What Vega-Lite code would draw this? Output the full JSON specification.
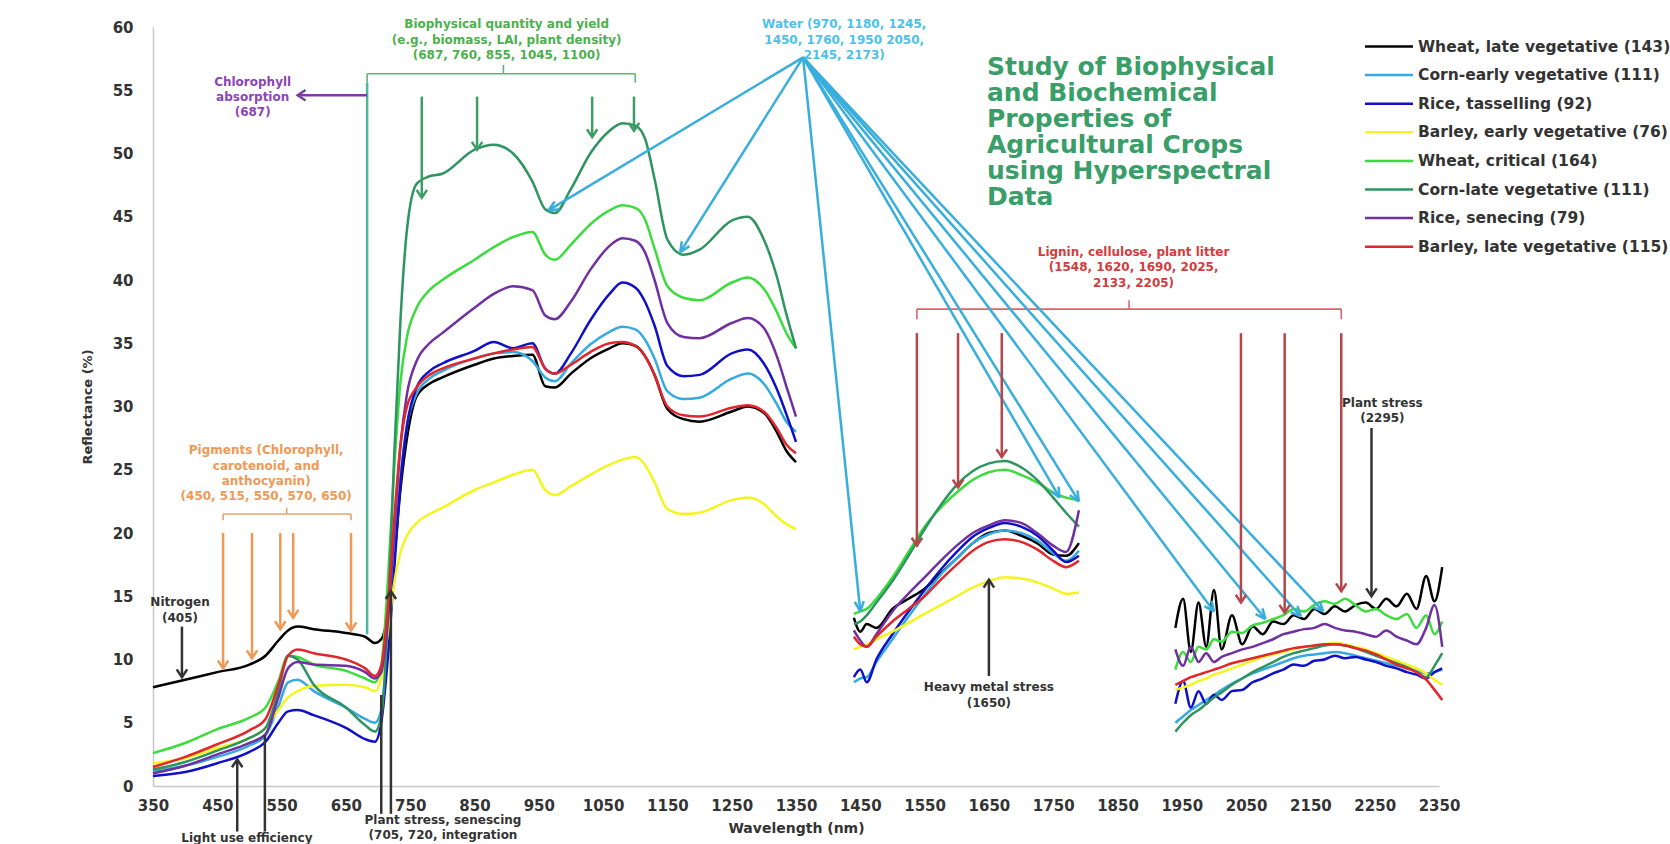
{
"$schema": "https://vega.github.io/schema/vega-lite/v6.json",
"width": 1286, "height": 759,
"autosize": {"type": "none"},
"padding": {"left": 153, "top": 27, "right": 231, "bottom": 58},
"background": "white",
"config": {"view": {"stroke": null}, "font": "DejaVu Sans"},
"datasets": {
"series": [{"c":"A","name":"Wheat, late vegetative (143)"},{"c":"B","name":"Corn-early vegetative (111)"},{"c":"C","name":"Rice, tasselling (92)"},{"c":"D","name":"Barley, early vegetative (76)"},{"c":"E","name":"Wheat, critical (164)"},{"c":"F","name":"Corn-late vegetative (111)"},{"c":"G","name":"Rice, senecing (79)"},{"c":"H","name":"Barley, late vegetative (115)"}],
"spectra": [
{"c":"A","seg":1,"x":350,"y":7.8},{"c":"A","seg":1,"x":400,"y":8.4},{"c":"A","seg":1,"x":450,"y":9.0},{"c":"A","seg":1,"x":500,"y":9.6},{"c":"A","seg":1,"x":525,"y":10.3},{"c":"A","seg":1,"x":545,"y":11.5},{"c":"A","seg":1,"x":560,"y":12.3},{"c":"A","seg":1,"x":575,"y":12.6},{"c":"A","seg":1,"x":600,"y":12.4},{"c":"A","seg":1,"x":650,"y":12.1},{"c":"A","seg":1,"x":680,"y":11.8},{"c":"A","seg":1,"x":695,"y":11.3},{"c":"A","seg":1,"x":705,"y":11.6},{"c":"A","seg":1,"x":715,"y":13.5},{"c":"A","seg":1,"x":725,"y":18},{"c":"A","seg":1,"x":735,"y":23.5},{"c":"A","seg":1,"x":745,"y":27.5},{"c":"A","seg":1,"x":760,"y":30.8},{"c":"A","seg":1,"x":780,"y":31.8},{"c":"A","seg":1,"x":800,"y":32.3},{"c":"A","seg":1,"x":850,"y":33.3},{"c":"A","seg":1,"x":880,"y":33.8},{"c":"A","seg":1,"x":910,"y":34.0},{"c":"A","seg":1,"x":940,"y":34.1},{"c":"A","seg":1,"x":960,"y":31.6},{"c":"A","seg":1,"x":975,"y":31.5},{"c":"A","seg":1,"x":1000,"y":32.6},{"c":"A","seg":1,"x":1030,"y":33.8},{"c":"A","seg":1,"x":1060,"y":34.6},{"c":"A","seg":1,"x":1080,"y":35.0},{"c":"A","seg":1,"x":1100,"y":34.8},{"c":"A","seg":1,"x":1115,"y":34.0},{"c":"A","seg":1,"x":1130,"y":32.5},{"c":"A","seg":1,"x":1150,"y":29.8},{"c":"A","seg":1,"x":1175,"y":29.0},{"c":"A","seg":1,"x":1200,"y":28.8},{"c":"A","seg":1,"x":1250,"y":29.6},{"c":"A","seg":1,"x":1275,"y":30.0},{"c":"A","seg":1,"x":1300,"y":29.5},{"c":"A","seg":1,"x":1320,"y":28.0},{"c":"A","seg":1,"x":1335,"y":26.5},{"c":"A","seg":1,"x":1350,"y":25.6},
{"c":"B","seg":1,"x":350,"y":1.2},{"c":"B","seg":1,"x":400,"y":1.6},{"c":"B","seg":1,"x":450,"y":2.3},{"c":"B","seg":1,"x":500,"y":3.2},{"c":"B","seg":1,"x":525,"y":4.0},{"c":"B","seg":1,"x":545,"y":6.3},{"c":"B","seg":1,"x":560,"y":8.2},{"c":"B","seg":1,"x":575,"y":8.4},{"c":"B","seg":1,"x":600,"y":7.5},{"c":"B","seg":1,"x":650,"y":6.2},{"c":"B","seg":1,"x":680,"y":5.3},{"c":"B","seg":1,"x":695,"y":5.0},{"c":"B","seg":1,"x":705,"y":6.0},{"c":"B","seg":1,"x":715,"y":11},{"c":"B","seg":1,"x":725,"y":18},{"c":"B","seg":1,"x":735,"y":24.5},{"c":"B","seg":1,"x":745,"y":28.5},{"c":"B","seg":1,"x":760,"y":31.0},{"c":"B","seg":1,"x":780,"y":32.2},{"c":"B","seg":1,"x":800,"y":32.8},{"c":"B","seg":1,"x":850,"y":33.8},{"c":"B","seg":1,"x":880,"y":34.2},{"c":"B","seg":1,"x":910,"y":34.3},{"c":"B","seg":1,"x":940,"y":33.6},{"c":"B","seg":1,"x":960,"y":32.3},{"c":"B","seg":1,"x":975,"y":32.0},{"c":"B","seg":1,"x":1000,"y":33.4},{"c":"B","seg":1,"x":1030,"y":34.9},{"c":"B","seg":1,"x":1060,"y":35.9},{"c":"B","seg":1,"x":1080,"y":36.3},{"c":"B","seg":1,"x":1100,"y":36.1},{"c":"B","seg":1,"x":1115,"y":35.3},{"c":"B","seg":1,"x":1130,"y":33.8},{"c":"B","seg":1,"x":1150,"y":31.2},{"c":"B","seg":1,"x":1175,"y":30.6},{"c":"B","seg":1,"x":1200,"y":30.7},{"c":"B","seg":1,"x":1250,"y":32.2},{"c":"B","seg":1,"x":1275,"y":32.6},{"c":"B","seg":1,"x":1300,"y":31.8},{"c":"B","seg":1,"x":1320,"y":30.2},{"c":"B","seg":1,"x":1335,"y":28.8},{"c":"B","seg":1,"x":1350,"y":28.0},
{"c":"C","seg":1,"x":350,"y":0.8},{"c":"C","seg":1,"x":400,"y":1.1},{"c":"C","seg":1,"x":450,"y":1.8},{"c":"C","seg":1,"x":500,"y":2.7},{"c":"C","seg":1,"x":525,"y":3.5},{"c":"C","seg":1,"x":545,"y":5.0},{"c":"C","seg":1,"x":560,"y":5.9},{"c":"C","seg":1,"x":575,"y":6.0},{"c":"C","seg":1,"x":600,"y":5.6},{"c":"C","seg":1,"x":650,"y":4.6},{"c":"C","seg":1,"x":680,"y":3.7},{"c":"C","seg":1,"x":695,"y":3.5},{"c":"C","seg":1,"x":705,"y":5.0},{"c":"C","seg":1,"x":715,"y":10},{"c":"C","seg":1,"x":725,"y":17},{"c":"C","seg":1,"x":735,"y":24},{"c":"C","seg":1,"x":745,"y":28.5},{"c":"C","seg":1,"x":760,"y":31.5},{"c":"C","seg":1,"x":780,"y":32.8},{"c":"C","seg":1,"x":800,"y":33.4},{"c":"C","seg":1,"x":850,"y":34.4},{"c":"C","seg":1,"x":880,"y":35.1},{"c":"C","seg":1,"x":910,"y":34.6},{"c":"C","seg":1,"x":940,"y":35.0},{"c":"C","seg":1,"x":960,"y":33.0},{"c":"C","seg":1,"x":975,"y":32.6},{"c":"C","seg":1,"x":1000,"y":34.2},{"c":"C","seg":1,"x":1030,"y":36.8},{"c":"C","seg":1,"x":1060,"y":38.9},{"c":"C","seg":1,"x":1080,"y":39.8},{"c":"C","seg":1,"x":1100,"y":39.4},{"c":"C","seg":1,"x":1115,"y":38.3},{"c":"C","seg":1,"x":1130,"y":36.4},{"c":"C","seg":1,"x":1150,"y":33.2},{"c":"C","seg":1,"x":1175,"y":32.4},{"c":"C","seg":1,"x":1200,"y":32.5},{"c":"C","seg":1,"x":1250,"y":34.2},{"c":"C","seg":1,"x":1275,"y":34.5},{"c":"C","seg":1,"x":1300,"y":33.4},{"c":"C","seg":1,"x":1320,"y":31.4},{"c":"C","seg":1,"x":1335,"y":29.4},{"c":"C","seg":1,"x":1350,"y":27.2},
{"c":"D","seg":1,"x":350,"y":1.8},{"c":"D","seg":1,"x":400,"y":2.2},{"c":"D","seg":1,"x":450,"y":3.0},{"c":"D","seg":1,"x":500,"y":3.8},{"c":"D","seg":1,"x":525,"y":4.6},{"c":"D","seg":1,"x":545,"y":6.0},{"c":"D","seg":1,"x":560,"y":7.0},{"c":"D","seg":1,"x":575,"y":7.5},{"c":"D","seg":1,"x":600,"y":7.9},{"c":"D","seg":1,"x":650,"y":8.0},{"c":"D","seg":1,"x":680,"y":7.8},{"c":"D","seg":1,"x":695,"y":7.5},{"c":"D","seg":1,"x":705,"y":8.5},{"c":"D","seg":1,"x":715,"y":12},{"c":"D","seg":1,"x":725,"y":16},{"c":"D","seg":1,"x":735,"y":18.5},{"c":"D","seg":1,"x":745,"y":19.8},{"c":"D","seg":1,"x":760,"y":20.8},{"c":"D","seg":1,"x":780,"y":21.5},{"c":"D","seg":1,"x":800,"y":22.0},{"c":"D","seg":1,"x":850,"y":23.4},{"c":"D","seg":1,"x":880,"y":24.0},{"c":"D","seg":1,"x":910,"y":24.6},{"c":"D","seg":1,"x":940,"y":25.0},{"c":"D","seg":1,"x":960,"y":23.4},{"c":"D","seg":1,"x":975,"y":23.0},{"c":"D","seg":1,"x":1000,"y":23.7},{"c":"D","seg":1,"x":1030,"y":24.6},{"c":"D","seg":1,"x":1060,"y":25.4},{"c":"D","seg":1,"x":1080,"y":25.8},{"c":"D","seg":1,"x":1100,"y":26.0},{"c":"D","seg":1,"x":1115,"y":25.4},{"c":"D","seg":1,"x":1130,"y":24.0},{"c":"D","seg":1,"x":1150,"y":21.9},{"c":"D","seg":1,"x":1175,"y":21.5},{"c":"D","seg":1,"x":1200,"y":21.6},{"c":"D","seg":1,"x":1250,"y":22.6},{"c":"D","seg":1,"x":1275,"y":22.8},{"c":"D","seg":1,"x":1300,"y":22.3},{"c":"D","seg":1,"x":1320,"y":21.3},{"c":"D","seg":1,"x":1335,"y":20.7},{"c":"D","seg":1,"x":1350,"y":20.3},
{"c":"E","seg":1,"x":350,"y":2.6},{"c":"E","seg":1,"x":400,"y":3.4},{"c":"E","seg":1,"x":450,"y":4.5},{"c":"E","seg":1,"x":500,"y":5.4},{"c":"E","seg":1,"x":525,"y":6.2},{"c":"E","seg":1,"x":545,"y":8.3},{"c":"E","seg":1,"x":560,"y":10.3},{"c":"E","seg":1,"x":575,"y":10.2},{"c":"E","seg":1,"x":600,"y":9.6},{"c":"E","seg":1,"x":650,"y":9.1},{"c":"E","seg":1,"x":680,"y":8.5},{"c":"E","seg":1,"x":695,"y":8.2},{"c":"E","seg":1,"x":705,"y":9.5},{"c":"E","seg":1,"x":715,"y":16},{"c":"E","seg":1,"x":725,"y":25},{"c":"E","seg":1,"x":735,"y":32},{"c":"E","seg":1,"x":745,"y":35.5},{"c":"E","seg":1,"x":760,"y":37.8},{"c":"E","seg":1,"x":780,"y":39.2},{"c":"E","seg":1,"x":800,"y":40.0},{"c":"E","seg":1,"x":850,"y":41.6},{"c":"E","seg":1,"x":880,"y":42.6},{"c":"E","seg":1,"x":910,"y":43.4},{"c":"E","seg":1,"x":940,"y":43.8},{"c":"E","seg":1,"x":960,"y":42.0},{"c":"E","seg":1,"x":975,"y":41.6},{"c":"E","seg":1,"x":1000,"y":42.8},{"c":"E","seg":1,"x":1030,"y":44.4},{"c":"E","seg":1,"x":1060,"y":45.5},{"c":"E","seg":1,"x":1080,"y":45.9},{"c":"E","seg":1,"x":1100,"y":45.7},{"c":"E","seg":1,"x":1115,"y":44.8},{"c":"E","seg":1,"x":1130,"y":42.5},{"c":"E","seg":1,"x":1150,"y":39.5},{"c":"E","seg":1,"x":1175,"y":38.6},{"c":"E","seg":1,"x":1200,"y":38.4},{"c":"E","seg":1,"x":1250,"y":39.8},{"c":"E","seg":1,"x":1275,"y":40.2},{"c":"E","seg":1,"x":1300,"y":39.3},{"c":"E","seg":1,"x":1320,"y":37.5},{"c":"E","seg":1,"x":1335,"y":35.8},{"c":"E","seg":1,"x":1350,"y":34.6},
{"c":"F","seg":1,"x":350,"y":1.3},{"c":"F","seg":1,"x":400,"y":1.9},{"c":"F","seg":1,"x":450,"y":2.8},{"c":"F","seg":1,"x":500,"y":3.8},{"c":"F","seg":1,"x":525,"y":4.6},{"c":"F","seg":1,"x":545,"y":7.5},{"c":"F","seg":1,"x":560,"y":10.3},{"c":"F","seg":1,"x":575,"y":10.0},{"c":"F","seg":1,"x":600,"y":8.0},{"c":"F","seg":1,"x":650,"y":6.2},{"c":"F","seg":1,"x":680,"y":4.8},{"c":"F","seg":1,"x":695,"y":4.3},{"c":"F","seg":1,"x":705,"y":5.5},{"c":"F","seg":1,"x":715,"y":13},{"c":"F","seg":1,"x":725,"y":26},{"c":"F","seg":1,"x":735,"y":37},{"c":"F","seg":1,"x":745,"y":44},{"c":"F","seg":1,"x":760,"y":47.6},{"c":"F","seg":1,"x":780,"y":48.2},{"c":"F","seg":1,"x":800,"y":48.4},{"c":"F","seg":1,"x":850,"y":50.3},{"c":"F","seg":1,"x":880,"y":50.7},{"c":"F","seg":1,"x":910,"y":50.0},{"c":"F","seg":1,"x":940,"y":47.8},{"c":"F","seg":1,"x":960,"y":45.6},{"c":"F","seg":1,"x":975,"y":45.3},{"c":"F","seg":1,"x":1000,"y":47.2},{"c":"F","seg":1,"x":1030,"y":50.0},{"c":"F","seg":1,"x":1060,"y":51.8},{"c":"F","seg":1,"x":1080,"y":52.4},{"c":"F","seg":1,"x":1100,"y":52.2},{"c":"F","seg":1,"x":1115,"y":51.2},{"c":"F","seg":1,"x":1130,"y":48.0},{"c":"F","seg":1,"x":1150,"y":43.2},{"c":"F","seg":1,"x":1175,"y":42.0},{"c":"F","seg":1,"x":1200,"y":42.4},{"c":"F","seg":1,"x":1250,"y":44.7},{"c":"F","seg":1,"x":1275,"y":45.0},{"c":"F","seg":1,"x":1300,"y":43.2},{"c":"F","seg":1,"x":1320,"y":40.3},{"c":"F","seg":1,"x":1335,"y":37.3},{"c":"F","seg":1,"x":1350,"y":34.6},
{"c":"G","seg":1,"x":350,"y":1.0},{"c":"G","seg":1,"x":400,"y":1.6},{"c":"G","seg":1,"x":450,"y":2.5},{"c":"G","seg":1,"x":500,"y":3.4},{"c":"G","seg":1,"x":525,"y":4.1},{"c":"G","seg":1,"x":545,"y":7.0},{"c":"G","seg":1,"x":560,"y":9.3},{"c":"G","seg":1,"x":575,"y":9.8},{"c":"G","seg":1,"x":600,"y":9.6},{"c":"G","seg":1,"x":650,"y":9.5},{"c":"G","seg":1,"x":680,"y":9.0},{"c":"G","seg":1,"x":695,"y":8.5},{"c":"G","seg":1,"x":705,"y":9.0},{"c":"G","seg":1,"x":715,"y":13},{"c":"G","seg":1,"x":725,"y":20},{"c":"G","seg":1,"x":735,"y":27},{"c":"G","seg":1,"x":745,"y":31},{"c":"G","seg":1,"x":760,"y":33.6},{"c":"G","seg":1,"x":780,"y":35.0},{"c":"G","seg":1,"x":800,"y":35.8},{"c":"G","seg":1,"x":850,"y":37.8},{"c":"G","seg":1,"x":880,"y":38.9},{"c":"G","seg":1,"x":910,"y":39.5},{"c":"G","seg":1,"x":940,"y":39.2},{"c":"G","seg":1,"x":960,"y":37.2},{"c":"G","seg":1,"x":975,"y":36.9},{"c":"G","seg":1,"x":1000,"y":38.3},{"c":"G","seg":1,"x":1030,"y":40.8},{"c":"G","seg":1,"x":1060,"y":42.7},{"c":"G","seg":1,"x":1080,"y":43.3},{"c":"G","seg":1,"x":1100,"y":43.1},{"c":"G","seg":1,"x":1115,"y":42.2},{"c":"G","seg":1,"x":1130,"y":40.0},{"c":"G","seg":1,"x":1150,"y":36.6},{"c":"G","seg":1,"x":1175,"y":35.5},{"c":"G","seg":1,"x":1200,"y":35.4},{"c":"G","seg":1,"x":1250,"y":36.6},{"c":"G","seg":1,"x":1275,"y":37.0},{"c":"G","seg":1,"x":1300,"y":36.2},{"c":"G","seg":1,"x":1320,"y":34.0},{"c":"G","seg":1,"x":1335,"y":31.6},{"c":"G","seg":1,"x":1350,"y":29.2},
{"c":"H","seg":1,"x":350,"y":1.5},{"c":"H","seg":1,"x":400,"y":2.3},{"c":"H","seg":1,"x":450,"y":3.3},{"c":"H","seg":1,"x":500,"y":4.4},{"c":"H","seg":1,"x":525,"y":5.3},{"c":"H","seg":1,"x":545,"y":8.0},{"c":"H","seg":1,"x":560,"y":10.3},{"c":"H","seg":1,"x":575,"y":10.8},{"c":"H","seg":1,"x":600,"y":10.5},{"c":"H","seg":1,"x":650,"y":10.0},{"c":"H","seg":1,"x":680,"y":9.3},{"c":"H","seg":1,"x":695,"y":8.7},{"c":"H","seg":1,"x":705,"y":9.5},{"c":"H","seg":1,"x":715,"y":14},{"c":"H","seg":1,"x":725,"y":21},{"c":"H","seg":1,"x":735,"y":27},{"c":"H","seg":1,"x":745,"y":30},{"c":"H","seg":1,"x":760,"y":31.5},{"c":"H","seg":1,"x":780,"y":32.5},{"c":"H","seg":1,"x":800,"y":33.0},{"c":"H","seg":1,"x":850,"y":33.8},{"c":"H","seg":1,"x":880,"y":34.2},{"c":"H","seg":1,"x":910,"y":34.5},{"c":"H","seg":1,"x":940,"y":34.7},{"c":"H","seg":1,"x":960,"y":33.0},{"c":"H","seg":1,"x":975,"y":32.6},{"c":"H","seg":1,"x":1000,"y":33.3},{"c":"H","seg":1,"x":1030,"y":34.3},{"c":"H","seg":1,"x":1060,"y":35.0},{"c":"H","seg":1,"x":1080,"y":35.1},{"c":"H","seg":1,"x":1100,"y":34.8},{"c":"H","seg":1,"x":1115,"y":34.0},{"c":"H","seg":1,"x":1130,"y":32.5},{"c":"H","seg":1,"x":1150,"y":30.0},{"c":"H","seg":1,"x":1175,"y":29.3},{"c":"H","seg":1,"x":1200,"y":29.2},{"c":"H","seg":1,"x":1250,"y":29.9},{"c":"H","seg":1,"x":1275,"y":30.1},{"c":"H","seg":1,"x":1300,"y":29.6},{"c":"H","seg":1,"x":1320,"y":28.3},{"c":"H","seg":1,"x":1335,"y":27.0},{"c":"H","seg":1,"x":1350,"y":26.3},
{"c":"A","seg":2,"x":1440,"y":13.3},{"c":"A","seg":2,"x":1450,"y":12.2},{"c":"A","seg":2,"x":1460,"y":12.8},{"c":"A","seg":2,"x":1475,"y":12.5},{"c":"A","seg":2,"x":1500,"y":14.0},{"c":"A","seg":2,"x":1525,"y":14.8},{"c":"A","seg":2,"x":1550,"y":15.6},{"c":"A","seg":2,"x":1575,"y":16.8},{"c":"A","seg":2,"x":1600,"y":18.0},{"c":"A","seg":2,"x":1625,"y":19.2},{"c":"A","seg":2,"x":1650,"y":20.0},{"c":"A","seg":2,"x":1675,"y":20.2},{"c":"A","seg":2,"x":1700,"y":19.8},{"c":"A","seg":2,"x":1725,"y":19.2},{"c":"A","seg":2,"x":1750,"y":18.3},{"c":"A","seg":2,"x":1770,"y":18.2},{"c":"A","seg":2,"x":1790,"y":19.2},
{"c":"B","seg":2,"x":1440,"y":8.2},{"c":"B","seg":2,"x":1450,"y":8.5},{"c":"B","seg":2,"x":1460,"y":8.6},{"c":"B","seg":2,"x":1475,"y":9.8},{"c":"B","seg":2,"x":1500,"y":11.6},{"c":"B","seg":2,"x":1525,"y":13.4},{"c":"B","seg":2,"x":1550,"y":15.1},{"c":"B","seg":2,"x":1575,"y":16.7},{"c":"B","seg":2,"x":1600,"y":18.0},{"c":"B","seg":2,"x":1625,"y":19.2},{"c":"B","seg":2,"x":1650,"y":19.9},{"c":"B","seg":2,"x":1675,"y":20.2},{"c":"B","seg":2,"x":1700,"y":20.0},{"c":"B","seg":2,"x":1725,"y":19.4},{"c":"B","seg":2,"x":1750,"y":18.4},{"c":"B","seg":2,"x":1770,"y":17.8},{"c":"B","seg":2,"x":1790,"y":18.6},
{"c":"C","seg":2,"x":1440,"y":8.6},{"c":"C","seg":2,"x":1450,"y":9.2},{"c":"C","seg":2,"x":1460,"y":8.2},{"c":"C","seg":2,"x":1475,"y":10.0},{"c":"C","seg":2,"x":1500,"y":12.0},{"c":"C","seg":2,"x":1525,"y":13.8},{"c":"C","seg":2,"x":1550,"y":15.5},{"c":"C","seg":2,"x":1575,"y":17.1},{"c":"C","seg":2,"x":1600,"y":18.5},{"c":"C","seg":2,"x":1625,"y":19.7},{"c":"C","seg":2,"x":1650,"y":20.4},{"c":"C","seg":2,"x":1675,"y":20.8},{"c":"C","seg":2,"x":1700,"y":20.5},{"c":"C","seg":2,"x":1725,"y":19.8},{"c":"C","seg":2,"x":1750,"y":18.6},{"c":"C","seg":2,"x":1770,"y":17.7},{"c":"C","seg":2,"x":1790,"y":18.2},
{"c":"D","seg":2,"x":1440,"y":10.8},{"c":"D","seg":2,"x":1450,"y":11.0},{"c":"D","seg":2,"x":1460,"y":11.2},{"c":"D","seg":2,"x":1475,"y":11.6},{"c":"D","seg":2,"x":1500,"y":12.2},{"c":"D","seg":2,"x":1525,"y":12.9},{"c":"D","seg":2,"x":1550,"y":13.6},{"c":"D","seg":2,"x":1575,"y":14.3},{"c":"D","seg":2,"x":1600,"y":15.0},{"c":"D","seg":2,"x":1625,"y":15.7},{"c":"D","seg":2,"x":1650,"y":16.2},{"c":"D","seg":2,"x":1675,"y":16.5},{"c":"D","seg":2,"x":1700,"y":16.4},{"c":"D","seg":2,"x":1725,"y":16.1},{"c":"D","seg":2,"x":1750,"y":15.6},{"c":"D","seg":2,"x":1770,"y":15.2},{"c":"D","seg":2,"x":1790,"y":15.3},
{"c":"E","seg":2,"x":1440,"y":13.6},{"c":"E","seg":2,"x":1450,"y":13.8},{"c":"E","seg":2,"x":1460,"y":14.0},{"c":"E","seg":2,"x":1475,"y":14.8},{"c":"E","seg":2,"x":1500,"y":16.5},{"c":"E","seg":2,"x":1525,"y":18.5},{"c":"E","seg":2,"x":1550,"y":20.5},{"c":"E","seg":2,"x":1575,"y":22.0},{"c":"E","seg":2,"x":1600,"y":23.2},{"c":"E","seg":2,"x":1625,"y":24.2},{"c":"E","seg":2,"x":1650,"y":24.8},{"c":"E","seg":2,"x":1675,"y":25.0},{"c":"E","seg":2,"x":1700,"y":24.6},{"c":"E","seg":2,"x":1725,"y":24.0},{"c":"E","seg":2,"x":1750,"y":23.2},{"c":"E","seg":2,"x":1770,"y":22.8},{"c":"E","seg":2,"x":1790,"y":22.6},
{"c":"F","seg":2,"x":1440,"y":12.8},{"c":"F","seg":2,"x":1450,"y":13.0},{"c":"F","seg":2,"x":1460,"y":13.5},{"c":"F","seg":2,"x":1475,"y":14.5},{"c":"F","seg":2,"x":1500,"y":16.2},{"c":"F","seg":2,"x":1525,"y":18.2},{"c":"F","seg":2,"x":1550,"y":20.3},{"c":"F","seg":2,"x":1575,"y":22.2},{"c":"F","seg":2,"x":1600,"y":23.8},{"c":"F","seg":2,"x":1625,"y":24.9},{"c":"F","seg":2,"x":1650,"y":25.5},{"c":"F","seg":2,"x":1675,"y":25.7},{"c":"F","seg":2,"x":1700,"y":25.2},{"c":"F","seg":2,"x":1725,"y":24.2},{"c":"F","seg":2,"x":1750,"y":22.8},{"c":"F","seg":2,"x":1770,"y":21.6},{"c":"F","seg":2,"x":1790,"y":20.5},
{"c":"G","seg":2,"x":1440,"y":12.3},{"c":"G","seg":2,"x":1450,"y":11.5},{"c":"G","seg":2,"x":1460,"y":11.0},{"c":"G","seg":2,"x":1475,"y":12.0},{"c":"G","seg":2,"x":1500,"y":13.8},{"c":"G","seg":2,"x":1525,"y":15.2},{"c":"G","seg":2,"x":1550,"y":16.5},{"c":"G","seg":2,"x":1575,"y":17.8},{"c":"G","seg":2,"x":1600,"y":19.0},{"c":"G","seg":2,"x":1625,"y":20.0},{"c":"G","seg":2,"x":1650,"y":20.6},{"c":"G","seg":2,"x":1675,"y":21.0},{"c":"G","seg":2,"x":1700,"y":20.8},{"c":"G","seg":2,"x":1725,"y":20.0},{"c":"G","seg":2,"x":1750,"y":19.0},{"c":"G","seg":2,"x":1770,"y":18.5},{"c":"G","seg":2,"x":1790,"y":21.8},
{"c":"H","seg":2,"x":1440,"y":11.8},{"c":"H","seg":2,"x":1450,"y":11.2},{"c":"H","seg":2,"x":1460,"y":11.0},{"c":"H","seg":2,"x":1475,"y":11.8},{"c":"H","seg":2,"x":1500,"y":13.0},{"c":"H","seg":2,"x":1525,"y":14.0},{"c":"H","seg":2,"x":1550,"y":15.0},{"c":"H","seg":2,"x":1575,"y":16.3},{"c":"H","seg":2,"x":1600,"y":17.5},{"c":"H","seg":2,"x":1625,"y":18.6},{"c":"H","seg":2,"x":1650,"y":19.3},{"c":"H","seg":2,"x":1675,"y":19.5},{"c":"H","seg":2,"x":1700,"y":19.3},{"c":"H","seg":2,"x":1725,"y":18.7},{"c":"H","seg":2,"x":1750,"y":17.8},{"c":"H","seg":2,"x":1770,"y":17.3},{"c":"H","seg":2,"x":1790,"y":17.8},
{"c":"A","seg":3,"x":1940,"y":12.5},{"c":"A","seg":3,"x":1952,"y":14.8},{"c":"A","seg":3,"x":1964,"y":10.6},{"c":"A","seg":3,"x":1976,"y":14.5},{"c":"A","seg":3,"x":1988,"y":11.0},{"c":"A","seg":3,"x":2000,"y":15.5},{"c":"A","seg":3,"x":2012,"y":10.8},{"c":"A","seg":3,"x":2028,"y":13.5},{"c":"A","seg":3,"x":2044,"y":11.2},{"c":"A","seg":3,"x":2060,"y":12.6},{"c":"A","seg":3,"x":2076,"y":12.0},{"c":"A","seg":3,"x":2092,"y":13.0},{"c":"A","seg":3,"x":2108,"y":12.8},{"c":"A","seg":3,"x":2124,"y":13.5},{"c":"A","seg":3,"x":2140,"y":13.2},{"c":"A","seg":3,"x":2156,"y":14.0},{"c":"A","seg":3,"x":2172,"y":13.6},{"c":"A","seg":3,"x":2188,"y":14.2},{"c":"A","seg":3,"x":2204,"y":13.8},{"c":"A","seg":3,"x":2220,"y":14.3},{"c":"A","seg":3,"x":2236,"y":14.5},{"c":"A","seg":3,"x":2252,"y":14.0},{"c":"A","seg":3,"x":2268,"y":14.8},{"c":"A","seg":3,"x":2284,"y":14.2},{"c":"A","seg":3,"x":2300,"y":15.2},{"c":"A","seg":3,"x":2315,"y":14.0},{"c":"A","seg":3,"x":2330,"y":16.6},{"c":"A","seg":3,"x":2343,"y":14.6},{"c":"A","seg":3,"x":2355,"y":17.3},
{"c":"B","seg":3,"x":1940,"y":5.0},{"c":"B","seg":3,"x":1952,"y":5.5},{"c":"B","seg":3,"x":1964,"y":6.0},{"c":"B","seg":3,"x":1976,"y":6.4},{"c":"B","seg":3,"x":1988,"y":6.8},{"c":"B","seg":3,"x":2000,"y":7.2},{"c":"B","seg":3,"x":2012,"y":7.6},{"c":"B","seg":3,"x":2028,"y":8.1},{"c":"B","seg":3,"x":2044,"y":8.5},{"c":"B","seg":3,"x":2060,"y":8.9},{"c":"B","seg":3,"x":2076,"y":9.2},{"c":"B","seg":3,"x":2092,"y":9.5},{"c":"B","seg":3,"x":2108,"y":9.8},{"c":"B","seg":3,"x":2124,"y":10.1},{"c":"B","seg":3,"x":2140,"y":10.3},{"c":"B","seg":3,"x":2156,"y":10.4},{"c":"B","seg":3,"x":2172,"y":10.5},{"c":"B","seg":3,"x":2188,"y":10.6},{"c":"B","seg":3,"x":2204,"y":10.5},{"c":"B","seg":3,"x":2220,"y":10.3},{"c":"B","seg":3,"x":2236,"y":10.1},{"c":"B","seg":3,"x":2252,"y":9.9},{"c":"B","seg":3,"x":2268,"y":9.7},{"c":"B","seg":3,"x":2284,"y":9.5},{"c":"B","seg":3,"x":2300,"y":9.3},{"c":"B","seg":3,"x":2315,"y":9.1},{"c":"B","seg":3,"x":2330,"y":8.9},{"c":"B","seg":3,"x":2343,"y":9.0},{"c":"B","seg":3,"x":2355,"y":9.2},
{"c":"C","seg":3,"x":1940,"y":6.5},{"c":"C","seg":3,"x":1952,"y":8.3},{"c":"C","seg":3,"x":1964,"y":6.2},{"c":"C","seg":3,"x":1976,"y":7.5},{"c":"C","seg":3,"x":1988,"y":6.5},{"c":"C","seg":3,"x":2000,"y":7.2},{"c":"C","seg":3,"x":2012,"y":6.8},{"c":"C","seg":3,"x":2028,"y":7.5},{"c":"C","seg":3,"x":2044,"y":7.6},{"c":"C","seg":3,"x":2060,"y":8.2},{"c":"C","seg":3,"x":2076,"y":8.5},{"c":"C","seg":3,"x":2092,"y":8.9},{"c":"C","seg":3,"x":2108,"y":9.2},{"c":"C","seg":3,"x":2124,"y":9.6},{"c":"C","seg":3,"x":2140,"y":9.5},{"c":"C","seg":3,"x":2156,"y":9.9},{"c":"C","seg":3,"x":2172,"y":10.0},{"c":"C","seg":3,"x":2188,"y":10.3},{"c":"C","seg":3,"x":2204,"y":10.1},{"c":"C","seg":3,"x":2220,"y":10.2},{"c":"C","seg":3,"x":2236,"y":10.0},{"c":"C","seg":3,"x":2252,"y":9.8},{"c":"C","seg":3,"x":2268,"y":9.5},{"c":"C","seg":3,"x":2284,"y":9.3},{"c":"C","seg":3,"x":2300,"y":9.0},{"c":"C","seg":3,"x":2315,"y":8.8},{"c":"C","seg":3,"x":2330,"y":8.5},{"c":"C","seg":3,"x":2343,"y":9.0},{"c":"C","seg":3,"x":2355,"y":9.3},
{"c":"D","seg":3,"x":1940,"y":7.6},{"c":"D","seg":3,"x":1952,"y":7.8},{"c":"D","seg":3,"x":1964,"y":8.0},{"c":"D","seg":3,"x":1976,"y":8.3},{"c":"D","seg":3,"x":1988,"y":8.5},{"c":"D","seg":3,"x":2000,"y":8.8},{"c":"D","seg":3,"x":2012,"y":9.0},{"c":"D","seg":3,"x":2028,"y":9.3},{"c":"D","seg":3,"x":2044,"y":9.6},{"c":"D","seg":3,"x":2060,"y":9.9},{"c":"D","seg":3,"x":2076,"y":10.2},{"c":"D","seg":3,"x":2092,"y":10.4},{"c":"D","seg":3,"x":2108,"y":10.6},{"c":"D","seg":3,"x":2124,"y":10.8},{"c":"D","seg":3,"x":2140,"y":11.0},{"c":"D","seg":3,"x":2156,"y":11.1},{"c":"D","seg":3,"x":2172,"y":11.2},{"c":"D","seg":3,"x":2188,"y":11.3},{"c":"D","seg":3,"x":2204,"y":11.2},{"c":"D","seg":3,"x":2220,"y":11.0},{"c":"D","seg":3,"x":2236,"y":10.8},{"c":"D","seg":3,"x":2252,"y":10.5},{"c":"D","seg":3,"x":2268,"y":10.2},{"c":"D","seg":3,"x":2284,"y":9.9},{"c":"D","seg":3,"x":2300,"y":9.6},{"c":"D","seg":3,"x":2315,"y":9.3},{"c":"D","seg":3,"x":2330,"y":8.9},{"c":"D","seg":3,"x":2343,"y":8.4},{"c":"D","seg":3,"x":2355,"y":8.0},
{"c":"E","seg":3,"x":1940,"y":9.2},{"c":"E","seg":3,"x":1952,"y":10.6},{"c":"E","seg":3,"x":1964,"y":9.8},{"c":"E","seg":3,"x":1976,"y":11.0},{"c":"E","seg":3,"x":1988,"y":10.8},{"c":"E","seg":3,"x":2000,"y":11.6},{"c":"E","seg":3,"x":2012,"y":11.4},{"c":"E","seg":3,"x":2028,"y":12.2},{"c":"E","seg":3,"x":2044,"y":12.1},{"c":"E","seg":3,"x":2060,"y":12.7},{"c":"E","seg":3,"x":2076,"y":12.9},{"c":"E","seg":3,"x":2092,"y":13.2},{"c":"E","seg":3,"x":2108,"y":13.5},{"c":"E","seg":3,"x":2124,"y":14.0},{"c":"E","seg":3,"x":2140,"y":13.8},{"c":"E","seg":3,"x":2156,"y":14.3},{"c":"E","seg":3,"x":2172,"y":14.6},{"c":"E","seg":3,"x":2188,"y":14.4},{"c":"E","seg":3,"x":2204,"y":14.8},{"c":"E","seg":3,"x":2220,"y":14.3},{"c":"E","seg":3,"x":2236,"y":13.8},{"c":"E","seg":3,"x":2252,"y":14.0},{"c":"E","seg":3,"x":2268,"y":13.5},{"c":"E","seg":3,"x":2284,"y":13.2},{"c":"E","seg":3,"x":2300,"y":13.6},{"c":"E","seg":3,"x":2315,"y":12.5},{"c":"E","seg":3,"x":2330,"y":13.5},{"c":"E","seg":3,"x":2343,"y":12.0},{"c":"E","seg":3,"x":2355,"y":13.0},
{"c":"F","seg":3,"x":1940,"y":4.3},{"c":"F","seg":3,"x":1952,"y":5.0},{"c":"F","seg":3,"x":1964,"y":5.6},{"c":"F","seg":3,"x":1976,"y":6.0},{"c":"F","seg":3,"x":1988,"y":6.5},{"c":"F","seg":3,"x":2000,"y":7.0},{"c":"F","seg":3,"x":2012,"y":7.4},{"c":"F","seg":3,"x":2028,"y":8.0},{"c":"F","seg":3,"x":2044,"y":8.5},{"c":"F","seg":3,"x":2060,"y":9.0},{"c":"F","seg":3,"x":2076,"y":9.4},{"c":"F","seg":3,"x":2092,"y":9.8},{"c":"F","seg":3,"x":2108,"y":10.2},{"c":"F","seg":3,"x":2124,"y":10.5},{"c":"F","seg":3,"x":2140,"y":10.7},{"c":"F","seg":3,"x":2156,"y":10.9},{"c":"F","seg":3,"x":2172,"y":11.1},{"c":"F","seg":3,"x":2188,"y":11.2},{"c":"F","seg":3,"x":2204,"y":11.1},{"c":"F","seg":3,"x":2220,"y":10.9},{"c":"F","seg":3,"x":2236,"y":10.6},{"c":"F","seg":3,"x":2252,"y":10.3},{"c":"F","seg":3,"x":2268,"y":10.0},{"c":"F","seg":3,"x":2284,"y":9.7},{"c":"F","seg":3,"x":2300,"y":9.4},{"c":"F","seg":3,"x":2315,"y":9.0},{"c":"F","seg":3,"x":2330,"y":8.6},{"c":"F","seg":3,"x":2343,"y":9.5},{"c":"F","seg":3,"x":2355,"y":10.5},
{"c":"G","seg":3,"x":1940,"y":10.8},{"c":"G","seg":3,"x":1952,"y":9.5},{"c":"G","seg":3,"x":1964,"y":11.0},{"c":"G","seg":3,"x":1976,"y":9.8},{"c":"G","seg":3,"x":1988,"y":10.5},{"c":"G","seg":3,"x":2000,"y":9.8},{"c":"G","seg":3,"x":2012,"y":10.2},{"c":"G","seg":3,"x":2028,"y":10.5},{"c":"G","seg":3,"x":2044,"y":10.8},{"c":"G","seg":3,"x":2060,"y":11.0},{"c":"G","seg":3,"x":2076,"y":11.3},{"c":"G","seg":3,"x":2092,"y":11.6},{"c":"G","seg":3,"x":2108,"y":12.0},{"c":"G","seg":3,"x":2124,"y":12.2},{"c":"G","seg":3,"x":2140,"y":12.4},{"c":"G","seg":3,"x":2156,"y":12.5},{"c":"G","seg":3,"x":2172,"y":12.8},{"c":"G","seg":3,"x":2188,"y":12.5},{"c":"G","seg":3,"x":2204,"y":12.3},{"c":"G","seg":3,"x":2220,"y":12.2},{"c":"G","seg":3,"x":2236,"y":12.0},{"c":"G","seg":3,"x":2252,"y":11.8},{"c":"G","seg":3,"x":2268,"y":12.3},{"c":"G","seg":3,"x":2284,"y":11.8},{"c":"G","seg":3,"x":2300,"y":11.5},{"c":"G","seg":3,"x":2315,"y":11.2},{"c":"G","seg":3,"x":2330,"y":12.5},{"c":"G","seg":3,"x":2343,"y":14.3},{"c":"G","seg":3,"x":2355,"y":11.0},
{"c":"H","seg":3,"x":1940,"y":8.0},{"c":"H","seg":3,"x":1952,"y":8.3},{"c":"H","seg":3,"x":1964,"y":8.6},{"c":"H","seg":3,"x":1976,"y":8.8},{"c":"H","seg":3,"x":1988,"y":9.0},{"c":"H","seg":3,"x":2000,"y":9.2},{"c":"H","seg":3,"x":2012,"y":9.4},{"c":"H","seg":3,"x":2028,"y":9.7},{"c":"H","seg":3,"x":2044,"y":9.9},{"c":"H","seg":3,"x":2060,"y":10.1},{"c":"H","seg":3,"x":2076,"y":10.3},{"c":"H","seg":3,"x":2092,"y":10.5},{"c":"H","seg":3,"x":2108,"y":10.7},{"c":"H","seg":3,"x":2124,"y":10.9},{"c":"H","seg":3,"x":2140,"y":11.0},{"c":"H","seg":3,"x":2156,"y":11.1},{"c":"H","seg":3,"x":2172,"y":11.2},{"c":"H","seg":3,"x":2188,"y":11.2},{"c":"H","seg":3,"x":2204,"y":11.1},{"c":"H","seg":3,"x":2220,"y":10.9},{"c":"H","seg":3,"x":2236,"y":10.7},{"c":"H","seg":3,"x":2252,"y":10.4},{"c":"H","seg":3,"x":2268,"y":10.0},{"c":"H","seg":3,"x":2284,"y":9.6},{"c":"H","seg":3,"x":2300,"y":9.3},{"c":"H","seg":3,"x":2315,"y":9.0},{"c":"H","seg":3,"x":2330,"y":8.4},{"c":"H","seg":3,"x":2343,"y":7.6},{"c":"H","seg":3,"x":2355,"y":6.8}
],
"brackets": [
{"g":"greenb","x":683,"y":56.3,"x2":1100,"y2":56.3},{"g":"greenb","x":683,"y":56.3,"x2":683,"y2":55.6},{"g":"greenb","x":1100,"y":56.3,"x2":1100,"y2":55.6},{"g":"greenb","x":895,"y":56.3,"x2":895,"y2":57.0},
{"g":"orangeb","x":459,"y":21.5,"x2":658,"y2":21.5},{"g":"orangeb","x":459,"y":21.5,"x2":459,"y2":21.0},{"g":"orangeb","x":658,"y":21.5,"x2":658,"y2":21.0},{"g":"orangeb","x":558,"y":21.5,"x2":558,"y2":22.0},
{"g":"redb","x":1538,"y":37.7,"x2":2198,"y2":37.7},{"g":"redb","x":1538,"y":37.7,"x2":1538,"y2":36.9},{"g":"redb","x":2198,"y":37.7,"x2":2198,"y2":36.9},{"g":"redb","x":1868,"y":37.7,"x2":1868,"y2":38.4}
],
"arrows": [
{"g":"orange","x":459,"y":20,"x2":459,"y2":9.3},{"g":"orange","x":504,"y":20,"x2":504,"y2":10.1},{"g":"orange","x":548,"y":20,"x2":548,"y2":12.4},{"g":"orange","x":568,"y":20,"x2":568,"y2":13.3},{"g":"orange","x":658,"y":20,"x2":658,"y2":12.3},
{"g":"green","x":768,"y":54.5,"x2":768,"y2":46.5},{"g":"green","x":854,"y":54.5,"x2":854,"y2":50.3},{"g":"green","x":1033,"y":54.5,"x2":1033,"y2":51.3},{"g":"green","x":1098,"y":54.5,"x2":1098,"y2":51.8},
{"g":"teal","x":683,"y":55.6,"x2":683,"y2":12.0},
{"g":"purple","x":683,"y":54.6,"x2":575,"y2":54.6},
{"g":"cyan","x":1361,"y":57.6,"x2":965,"y2":45.5},{"g":"cyan","x":1361,"y":57.6,"x2":1170,"y2":42.2},{"g":"cyan","x":1361,"y":57.6,"x2":1450,"y2":13.8},{"g":"cyan","x":1361,"y":57.6,"x2":1760,"y2":22.8},{"g":"cyan","x":1361,"y":57.6,"x2":1790,"y2":22.5},{"g":"cyan","x":1361,"y":57.6,"x2":2000,"y2":13.8},{"g":"cyan","x":1361,"y":57.6,"x2":2080,"y2":13.2},{"g":"cyan","x":1361,"y":57.6,"x2":2135,"y2":13.4},{"g":"cyan","x":1361,"y":57.6,"x2":2170,"y2":13.8},
{"g":"cyan","x":974.7,"y":46.21,"x2":965,"y2":45.5},{"g":"cyan","x":981.9,"y":45.6,"x2":965,"y2":45.5},
{"g":"cyan","x":1172.4,"y":43.06,"x2":1170,"y2":42.2},{"g":"cyan","x":1184.2,"y":42.68,"x2":1170,"y2":42.2},
{"g":"cyan","x":1441.4,"y":14.55,"x2":1450,"y2":13.8},{"g":"cyan","x":1455.4,"y":14.62,"x2":1450,"y2":13.8},
{"g":"cyan","x":1746.1,"y":23.3,"x2":1760,"y2":22.8},{"g":"cyan","x":1758.2,"y":23.66,"x2":1760,"y2":22.8},
{"g":"cyan","x":1775.8,"y":22.98,"x2":1790,"y2":22.5},{"g":"cyan","x":1787.7,"y":23.36,"x2":1790,"y2":22.5},
{"g":"cyan","x":1985.1,"y":14.22,"x2":2000,"y2":13.8},{"g":"cyan","x":1996.3,"y":14.65,"x2":2000,"y2":13.8},
{"g":"cyan","x":2064.7,"y":13.58,"x2":2080,"y2":13.2},{"g":"cyan","x":2075.5,"y":14.04,"x2":2080,"y2":13.2},
{"g":"cyan","x":2119.4,"y":13.75,"x2":2135,"y2":13.4},{"g":"cyan","x":2129.9,"y":14.23,"x2":2135,"y2":13.4},
{"g":"cyan","x":2154.2,"y":14.13,"x2":2170,"y2":13.8},{"g":"cyan","x":2164.4,"y":14.62,"x2":2170,"y2":13.8},
{"g":"red","x":1538,"y":35.8,"x2":1538,"y2":19.0},{"g":"red","x":1602,"y":35.8,"x2":1602,"y2":23.6},{"g":"red","x":1670,"y":35.8,"x2":1670,"y2":26.0},{"g":"red","x":2042,"y":35.8,"x2":2042,"y2":14.5},{"g":"red","x":2110,"y":35.8,"x2":2110,"y2":13.7},{"g":"red","x":2198,"y":35.8,"x2":2198,"y2":15.4},
{"g":"black","x":395,"y":12.6,"x2":395,"y2":8.6},{"g":"black","x":481,"y":-3.6,"x2":481,"y2":2.1},{"g":"black","x":524,"y":-3.6,"x2":524,"y2":4.0},{"g":"black","x":705,"y":-2.2,"x2":705,"y2":7.2},{"g":"black","x":720,"y":-2.2,"x2":720,"y2":15.4},{"g":"black","x":1650,"y":8.7,"x2":1650,"y2":16.3},{"g":"black","x":2245,"y":28.3,"x2":2245,"y2":15.0}
],
"heads": [
{"g":"orange","d":"down","x":459,"y":9.3},{"g":"orange","d":"down","x":504,"y":10.1},{"g":"orange","d":"down","x":548,"y":12.4},{"g":"orange","d":"down","x":568,"y":13.3},{"g":"orange","d":"down","x":658,"y":12.3},
{"g":"green","d":"down","x":768,"y":46.5},{"g":"green","d":"down","x":854,"y":50.3},{"g":"green","d":"down","x":1033,"y":51.3},{"g":"green","d":"down","x":1098,"y":51.8},
{"g":"red","d":"down","x":1538,"y":19.0},{"g":"red","d":"down","x":1602,"y":23.6},{"g":"red","d":"down","x":1670,"y":26.0},{"g":"red","d":"down","x":2042,"y":14.5},{"g":"red","d":"down","x":2110,"y":13.7},{"g":"red","d":"down","x":2198,"y":15.4},
{"g":"black","d":"down","x":395,"y":8.6},{"g":"black","d":"down","x":2245,"y":15.0},
{"g":"black","d":"up","x":481,"y":2.1},{"g":"black","d":"up","x":720,"y":15.4},{"g":"black","d":"up","x":1650,"y":16.3},
{"g":"purple","d":"left","x":575,"y":54.6}
],
"texts": [
{"g":"green","x":900,"y":60.24,"t":"Biophysical quantity and yield"},{"g":"green","x":900,"y":58.97,"t":"(e.g., biomass, LAI, plant density)"},{"g":"green","x":900,"y":57.79,"t":"(687, 760, 855, 1045, 1100)"},
{"g":"cyan","x":1425,"y":60.24,"t":"Water (970, 1180, 1245,"},{"g":"cyan","x":1425,"y":58.97,"t":"1450, 1760, 1950 2050,"},{"g":"cyan","x":1425,"y":57.79,"t":"2145, 2173)"},
{"g":"purple","x":505,"y":55.65,"t":"Chlorophyll"},{"g":"purple","x":505,"y":54.47,"t":"absorption"},{"g":"purple","x":505,"y":53.28,"t":"(687)"},
{"g":"orange","x":526,"y":26.56,"t":"Pigments (Chlorophyll,"},{"g":"orange","x":526,"y":25.3,"t":"carotenoid, and"},{"g":"orange","x":526,"y":24.12,"t":"anthocyanin)"},{"g":"orange","x":526,"y":22.92,"t":"(450, 515, 550, 570, 650)"},
{"g":"black","x":392,"y":14.55,"t":"Nitrogen"},{"g":"black","x":392,"y":13.3,"t":"(405)"},
{"g":"red","x":1875,"y":42.2,"t":"Lignin, cellulose, plant litter"},{"g":"red","x":1875,"y":41.0,"t":"(1548, 1620, 1690, 2025,"},{"g":"red","x":1875,"y":39.8,"t":"2133, 2205)"},
{"g":"black","x":1650,"y":7.8,"t":"Heavy metal stress"},{"g":"black","x":1650,"y":6.6,"t":"(1650)"},
{"g":"black","x":2262,"y":30.3,"t":"Plant stress"},{"g":"black","x":2262,"y":29.1,"t":"(2295)"},
{"g":"black","x":496,"y":-4.1,"t":"Light use efficiency"},
{"g":"black","x":801,"y":-2.69,"t":"Plant stress, senescing"},{"g":"black","x":801,"y":-3.87,"t":"(705, 720, integration"}
],
"title": [
{"x":1647,"y":56.84,"t":"Study of Biophysical"},{"x":1647,"y":54.78,"t":"and Biochemical"},{"x":1647,"y":52.73,"t":"Properties of"},{"x":1647,"y":50.67,"t":"Agricultural Crops"},{"x":1647,"y":48.62,"t":"using Hyperspectral"},{"x":1647,"y":46.56,"t":"Data"}
]
},
"encoding": {
"x": {"field": "x", "type": "quantitative", "scale": {"domain": [350, 2350], "nice": false, "zero": false},
  "axis": {"title": "Wavelength (nm)", "format": "d", "values": [350,450,550,650,750,850,950,1050,1150,1250,1350,1450,1550,1650,1750,1850,1950,2050,2150,2250,2350], "grid": false, "ticks": false, "tickSize": 0, "labelPadding": 12, "labelFont": "DejaVu Sans", "labelFontSize": 15, "labelFontWeight": "bold", "labelColor": "#333333", "labelFlush": false, "labelOverlap": false, "domainColor": "#c8c8c8", "domainWidth": 1.5, "titleFont": "DejaVu Sans", "titleFontSize": 14, "titleFontWeight": "bold", "titleColor": "#333333", "titlePadding": 8}},
"y": {"field": "y", "type": "quantitative", "scale": {"domain": [0, 60], "nice": false, "zero": false},
  "axis": {"title": "Reflectance (%)", "format": "d", "values": [0,5,10,15,20,25,30,35,40,45,50,55,60], "grid": false, "ticks": false, "tickSize": 0, "labelPadding": 20, "labelFont": "DejaVu Sans", "labelFontSize": 15, "labelFontWeight": "bold", "labelColor": "#333333", "labelFlush": false, "labelOverlap": false, "domainColor": "#c8c8c8", "domainWidth": 1.5, "titleFont": "DejaVu Sans", "titleFontSize": 13, "titleFontWeight": "bold", "titleColor": "#333333", "titlePadding": 18}}
},
"layer": [
{"data": {"name": "spectra"},
 "transform": [{"lookup": "c", "from": {"data": {"name": "series"}, "key": "c", "fields": ["name"]}}],
 "mark": {"type": "line", "strokeWidth": 2.5, "interpolate": "monotone", "strokeJoin": "round"},
 "encoding": {
  "color": {"field": "name", "type": "nominal",
   "scale": {"domain": ["Wheat, late vegetative (143)","Corn-early vegetative (111)","Rice, tasselling (92)","Barley, early vegetative (76)","Wheat, critical (164)","Corn-late vegetative (111)","Rice, senecing (79)","Barley, late vegetative (115)"],
             "range": ["#000000","#35A9E1","#1010C8","#F5F51E","#3CDC3C","#2E9460","#7030A0","#E3262B"]},
   "legend": {"title": null, "orient": "none", "legendX": 1224.5, "legendY": 8, "padding": 0, "symbolType": "M-2.4,0L2.4,0", "symbolSize": 400, "symbolStrokeWidth": 2.5, "labelFont": "DejaVu Sans", "labelFontSize": 15.5, "labelFontWeight": "bold", "labelColor": "#333333", "labelOffset": 17.5, "rowPadding": 8.6, "labelLimit": 400}},
  "detail": {"field": "seg", "type": "nominal"}}},
{"data": {"name": "brackets"},
 "mark": {"type": "rule", "strokeWidth": 1.6},
 "encoding": {"x2": {"field": "x2"}, "y2": {"field": "y2"},
  "color": {"field": "g", "type": "nominal", "scale": {"domain": ["greenb","orangeb","redb"], "range": ["#5DB878","#E8A46A","#D9666A"]}, "legend": null}}},
{"data": {"name": "arrows"},
 "mark": {"type": "rule", "strokeWidth": 2.5},
 "encoding": {"x2": {"field": "x2"}, "y2": {"field": "y2"},
  "color": {"field": "g", "type": "nominal", "scale": {"domain": ["orange","green","teal","purple","cyan","red","black"], "range": ["#EE9A55","#3C9E64","#4FB89A","#7A3F9D","#38AEDC","#B5464A","#333333"]}, "legend": null}}},
{"data": {"name": "heads"},
 "mark": {"type": "point", "filled": false, "strokeWidth": 2.5, "opacity": 1, "size": 110},
 "encoding": {
  "color": {"field": "g", "type": "nominal", "scale": {"domain": ["orange","green","teal","purple","cyan","red","black"], "range": ["#EE9A55","#3C9E64","#4FB89A","#7A3F9D","#38AEDC","#B5464A","#333333"]}, "legend": null},
  "shape": {"field": "d", "type": "nominal", "scale": {"domain": ["down","up","left"], "range": ["M-1,-1.5L0,0L1,-1.5","M-1,1.5L0,0L1,1.5","M1.5,-1L0,0L1.5,1"]}, "legend": null}}},
{"data": {"name": "texts"},
 "mark": {"type": "text", "font": "DejaVu Sans", "fontSize": 12, "fontWeight": "bold", "align": "center", "baseline": "middle"},
 "encoding": {"text": {"field": "t"},
  "color": {"field": "g", "type": "nominal", "scale": {"domain": ["green","cyan","purple","orange","red","black"], "range": ["#4DB04F","#4CC2E8","#8B45B5","#EE9955","#D43C3C","#333333"]}, "legend": null}}},
{"data": {"name": "title"},
 "mark": {"type": "text", "font": "DejaVu Sans", "fontSize": 25, "fontWeight": "bold", "align": "left", "baseline": "middle", "color": "#3A9E68"},
 "encoding": {"text": {"field": "t"}}}
],
"resolve": {"scale": {"color": "independent"}}
}
